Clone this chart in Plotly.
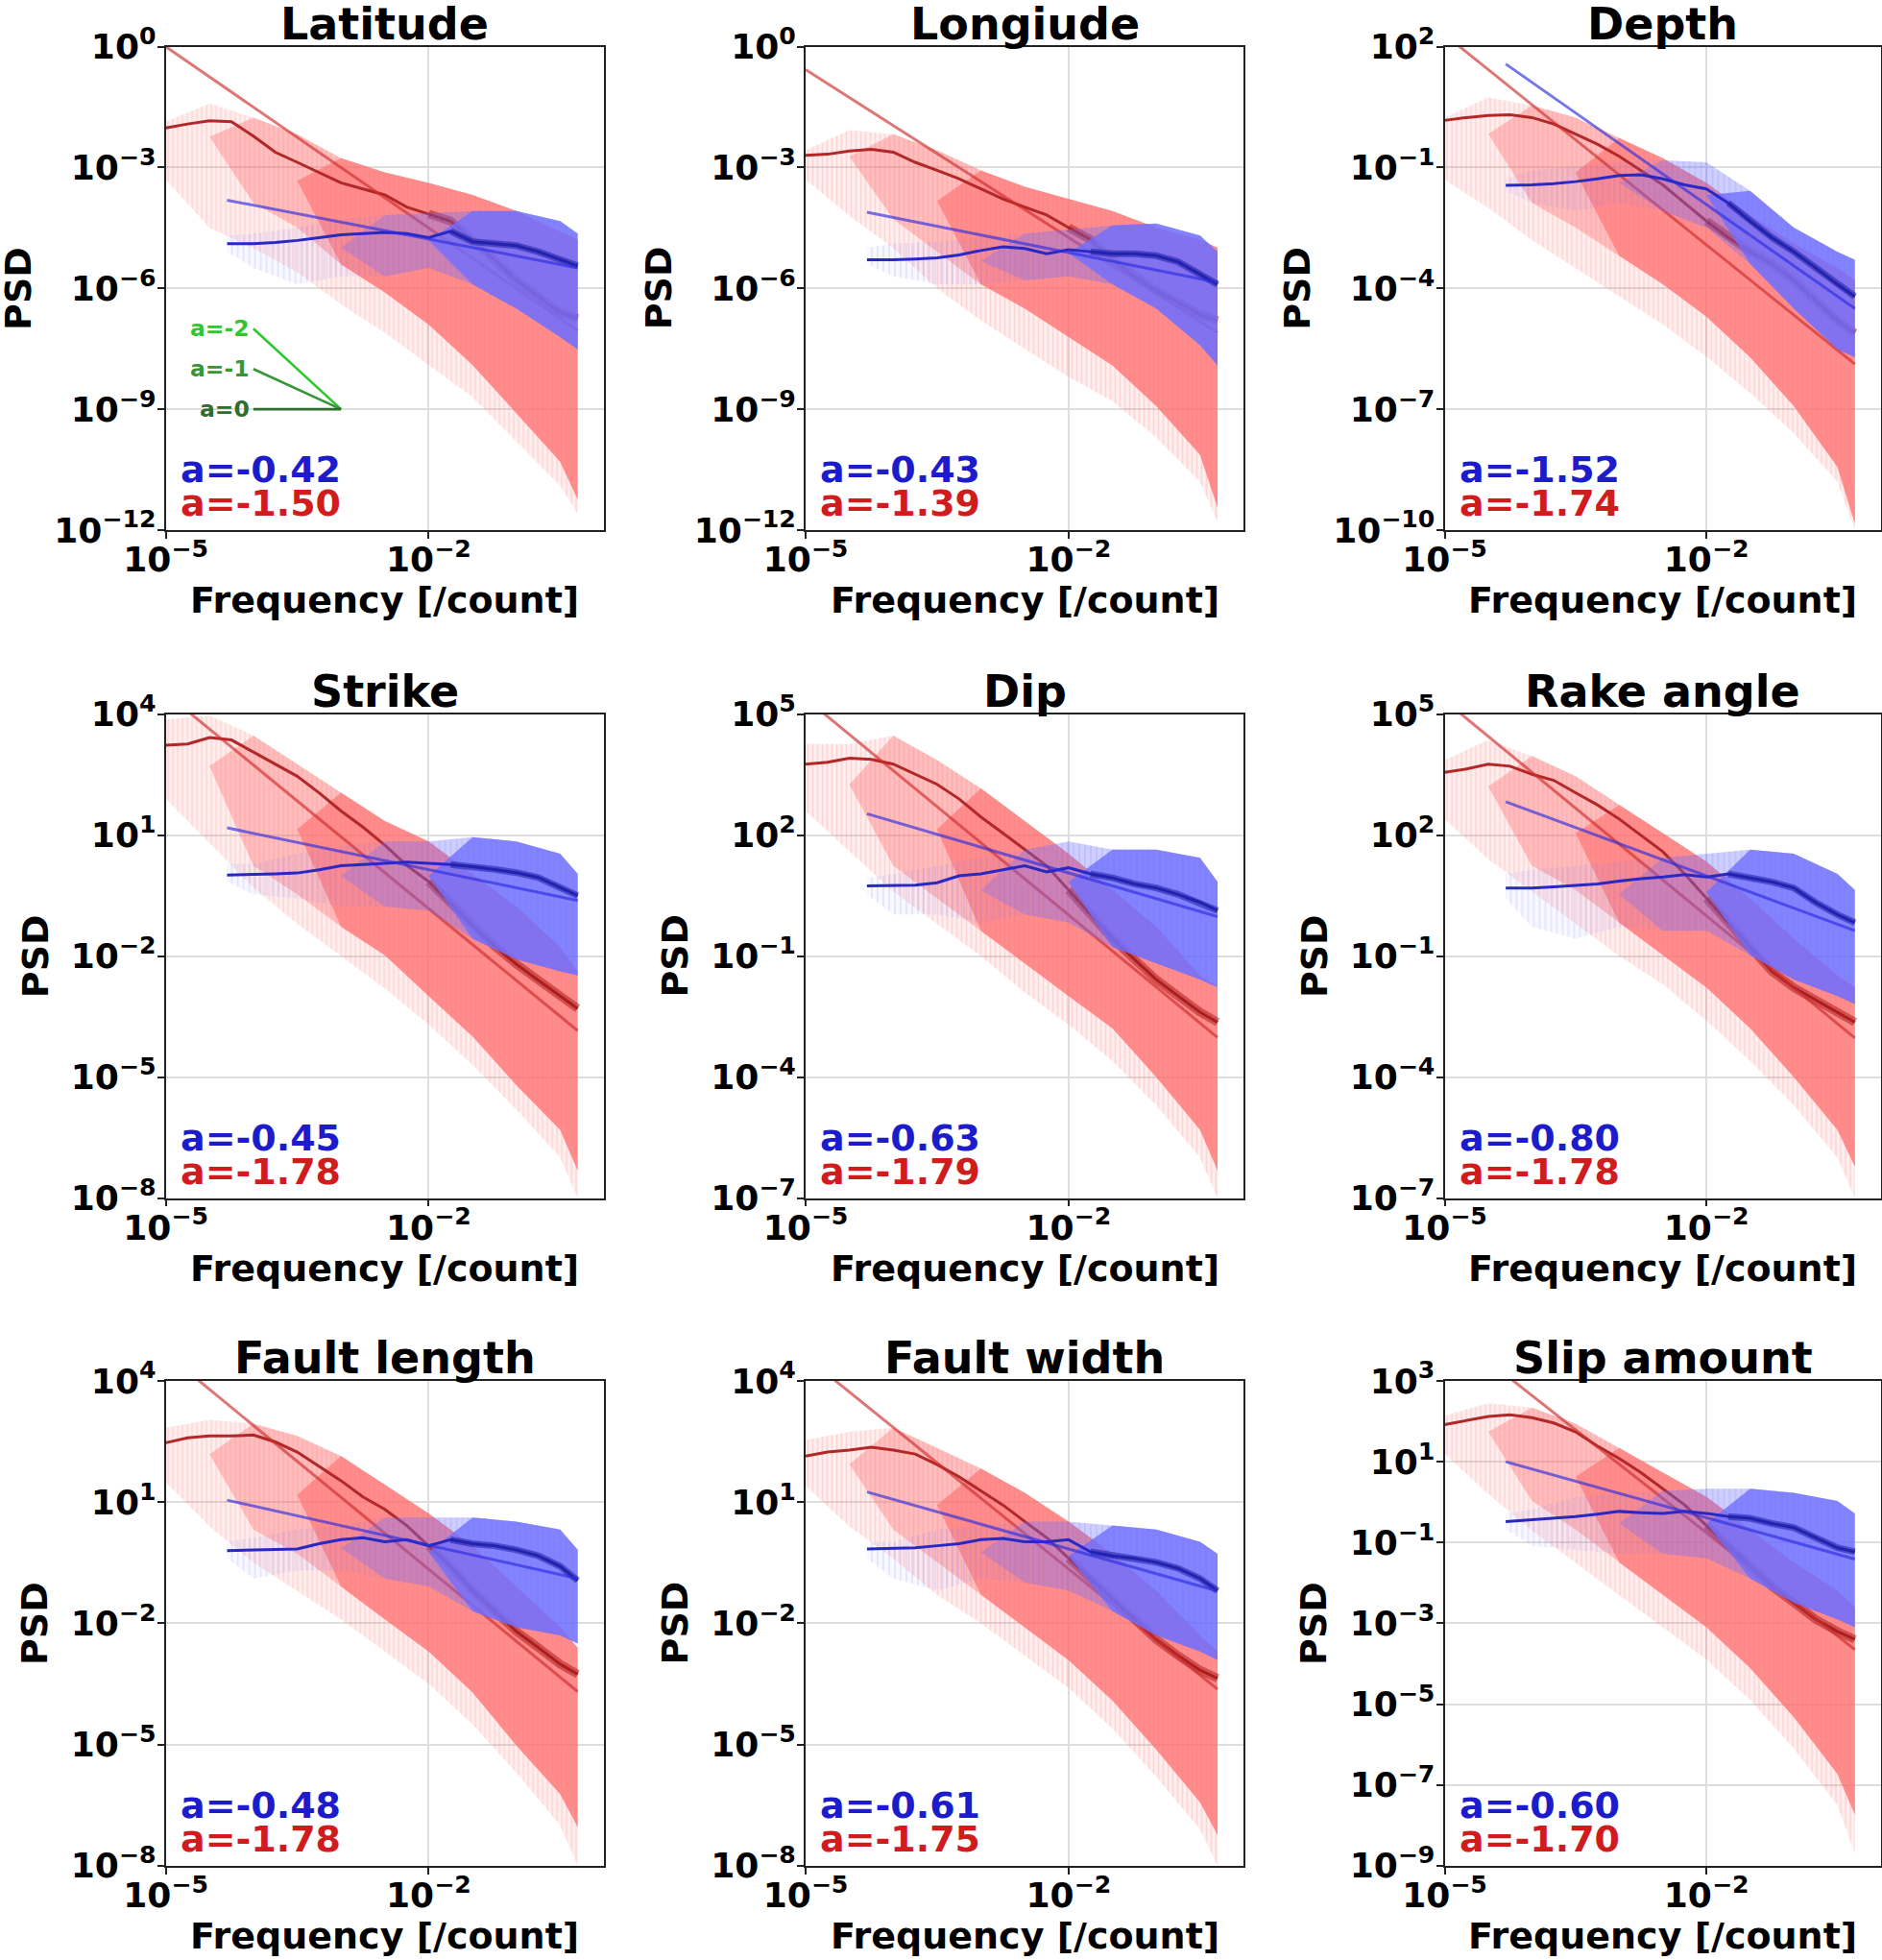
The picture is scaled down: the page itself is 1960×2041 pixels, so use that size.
import numpy as np
import plotly.graph_objects as go

# ---------------- data (log10 units) ----------------
TITLES = ["Latitude", "Longiude", "Depth", "Strike", "Dip", "Rake angle",
          "Fault length", "Fault width", "Slip amount"]
A_BLUE = [-0.42, -0.43, -1.52, -0.45, -0.63, -0.80, -0.48, -0.61, -0.60]
A_RED = [-1.50, -1.39, -1.74, -1.78, -1.79, -1.78, -1.78, -1.75, -1.70]
Y_TICK_EXP = [[0, -3, -6, -9, -12], [0, -3, -6, -9, -12], [2, -1, -4, -7, -10],
              [4, 1, -2, -5, -8], [5, 2, -1, -4, -7], [5, 2, -1, -4, -7],
              [4, 1, -2, -5, -8], [4, 1, -2, -5, -8], [3, 1, -1, -3, -5, -7, -9]]
X_TICK_EXP = [-5, -2]
X_RANGE_EXP = [-5, 0]

# frequency sample points (log10 of frequency)
LOGF_RED_SMOOTH = [-5, -4.75, -4.5, -4.25, -4, -3.75, -3.5, -3.25, -3, -2.75, -2.5,
                   -2.25, -2, -1.75, -1.5, -1.25, -1, -0.75, -0.5, -0.3]
LOGF_BLUE_SMOOTH = [-4.3, -4, -3.75, -3.5, -3.25, -3, -2.75, -2.5, -2.25, -2, -1.75,
                    -1.5, -1.25, -1, -0.75, -0.5, -0.3]
LOGF_RED_BAND = [-5, -4.5, -4, -3.5, -3, -2.5, -2, -1.5, -1, -0.5, -0.3]
LOGF_BLUE_BAND = [-4.3, -4, -3.5, -3, -2.5, -2, -1.5, -1, -0.5, -0.3]

RED_SMOOTH = [
    [-2.02, -1.92, -1.84, -1.86, -2.22, -2.62, -2.87, -3.12, -3.38, -3.53, -3.68, -3.98, -4.15, -4.33, -4.79, -5.29, -5.80, -6.20, -6.60, -6.75],
    [-2.70, -2.67, -2.59, -2.55, -2.62, -2.87, -3.07, -3.28, -3.53, -3.78, -3.98, -4.18, -4.49, -4.79, -5.29, -5.70, -6.05, -6.35, -6.65, -6.80],
    [0.17, 0.24, 0.29, 0.31, 0.24, 0.08, -0.17, -0.42, -0.72, -1.07, -1.43, -1.88, -2.33, -2.74, -3.09, -3.39, -3.80, -4.30, -4.80, -5.11],
    [3.23, 3.26, 3.42, 3.36, 3.06, 2.76, 2.46, 2.05, 1.60, 1.20, 0.75, 0.25, -0.15, -0.70, -1.25, -1.75, -2.20, -2.60, -3.00, -3.30],
    [3.76, 3.81, 3.91, 3.88, 3.76, 3.51, 3.26, 2.90, 2.45, 2.05, 1.64, 1.24, 0.64, 0.03, -0.57, -1.08, -1.58, -1.99, -2.39, -2.64],
    [3.56, 3.64, 3.76, 3.71, 3.51, 3.36, 3.05, 2.75, 2.40, 2.00, 1.59, 1.04, 0.43, -0.17, -0.78, -1.38, -1.78, -2.09, -2.39, -2.64],
    [2.47, 2.59, 2.64, 2.64, 2.66, 2.49, 2.24, 1.88, 1.53, 1.13, 0.82, 0.42, -0.08, -0.59, -1.19, -1.70, -2.20, -2.60, -3.01, -3.26],
    [2.14, 2.24, 2.29, 2.36, 2.29, 2.19, 1.93, 1.63, 1.28, 0.93, 0.52, 0.12, -0.39, -0.89, -1.39, -1.90, -2.40, -2.80, -3.16, -3.36],
    [1.92, 2.02, 2.12, 2.16, 2.09, 1.96, 1.74, 1.39, 1.08, 0.73, 0.33, -0.07, -0.58, -1.08, -1.59, -2.09, -2.49, -2.90, -3.20, -3.40],
]
BLUE_SMOOTH = [
    [-4.89, -4.89, -4.86, -4.81, -4.74, -4.67, -4.64, -4.61, -4.64, -4.74, -4.58, -4.84, -4.89, -4.94, -5.09, -5.29, -5.44],
    [-5.29, -5.29, -5.27, -5.24, -5.17, -5.06, -4.97, -5.01, -5.14, -5.04, -5.09, -5.14, -5.14, -5.19, -5.34, -5.65, -5.90],
    [-1.44, -1.43, -1.40, -1.35, -1.28, -1.20, -1.18, -1.28, -1.43, -1.53, -1.88, -2.33, -2.74, -3.09, -3.49, -3.90, -4.20],
    [0.01, 0.02, 0.04, 0.06, 0.14, 0.24, 0.27, 0.30, 0.33, 0.30, 0.27, 0.22, 0.15, 0.07, -0.05, -0.30, -0.50],
    [0.74, 0.76, 0.76, 0.82, 0.99, 1.04, 1.14, 1.24, 1.09, 1.19, 1.04, 0.94, 0.79, 0.69, 0.53, 0.33, 0.13],
    [0.69, 0.69, 0.72, 0.76, 0.79, 0.86, 0.92, 0.96, 1.02, 0.96, 1.04, 0.94, 0.84, 0.69, 0.33, 0.03, -0.17],
    [-0.20, -0.18, -0.18, -0.16, -0.03, 0.07, 0.12, 0.02, 0.07, -0.08, 0.07, -0.03, -0.08, -0.18, -0.33, -0.59, -0.94],
    [-0.16, -0.14, -0.13, -0.08, -0.03, 0.07, 0.10, 0.02, 0.02, 0.07, -0.23, -0.33, -0.39, -0.49, -0.64, -0.89, -1.19],
    [-0.48, -0.43, -0.40, -0.36, -0.30, -0.23, -0.26, -0.28, -0.23, -0.28, -0.36, -0.40, -0.53, -0.63, -0.88, -1.13, -1.23],
]
RED_HI = [
    [-1.86, -1.41, -1.76, -2.17, -2.77, -3.12, -3.38, -3.68, -4.08, -4.59, -4.79],
    [-2.57, -2.07, -2.17, -2.57, -3.07, -3.48, -3.78, -4.08, -4.49, -4.79, -4.99],
    [0.24, 0.74, 0.54, 0.24, -0.27, -0.77, -1.38, -2.18, -2.89, -3.49, -3.80],
    [3.87, 3.97, 3.47, 2.76, 2.05, 1.35, 0.84, 0.04, -0.77, -1.78, -2.38],
    [4.26, 4.26, 4.47, 3.86, 3.16, 2.35, 1.54, 0.64, -0.27, -1.48, -1.78],
    [3.86, 4.36, 3.96, 3.46, 2.75, 2.05, 1.34, 0.43, -0.57, -1.48, -1.78],
    [2.84, 3.04, 2.94, 2.64, 2.14, 1.43, 0.72, -0.08, -1.09, -2.10, -2.60],
    [2.54, 2.74, 2.84, 2.34, 1.83, 1.23, 0.52, -0.28, -1.19, -2.30, -2.70],
    [2.14, 2.45, 2.34, 1.94, 1.34, 0.73, 0.13, -0.68, -1.49, -2.19, -2.60],
]
RED_LO = [
    [-3.07, -3.07, -3.88, -4.49, -5.40, -6.10, -6.90, -7.90, -9.10, -10.30, -11.24],
    [-3.07, -3.38, -4.28, -5.09, -5.90, -6.50, -7.21, -7.91, -8.92, -10.13, -11.44],
    [-1.07, -1.07, -1.88, -2.49, -3.19, -3.90, -4.70, -5.71, -6.92, -8.43, -9.84],
    [2.26, 1.45, 0.24, -0.47, -1.27, -1.98, -2.99, -3.99, -5.20, -6.31, -7.32],
    [2.95, 2.25, 1.24, 0.43, -0.37, -1.18, -1.99, -2.79, -4.00, -5.31, -6.32],
    [2.75, 2.05, 1.24, 0.64, -0.17, -0.98, -1.78, -2.79, -4.00, -5.31, -6.22],
    [1.83, 1.33, 0.32, -0.28, -1.09, -1.90, -2.70, -3.71, -5.02, -6.23, -7.04],
    [1.73, 1.13, 0.32, -0.49, -1.29, -2.10, -2.91, -3.91, -5.12, -6.43, -7.24],
    [1.54, 1.03, 0.03, -0.68, -1.49, -2.29, -3.10, -4.11, -5.32, -6.73, -7.74],
]
# deepest downward spikes of the raw red spectrum
RED_MIN = [
    [-3.3, -4.5, -5.0, -5.6, -6.4, -7.1, -7.9, -8.7, -9.8, -10.9, -11.6],
    [-3.3, -4.2, -5.0, -6.0, -6.8, -7.5, -8.2, -8.8, -9.7, -10.8, -11.8],
    [-1.3, -2.0, -2.8, -3.5, -4.2, -4.9, -5.7, -6.6, -7.6, -8.8, -10.0],
    [1.9, 0.8, -0.3, -1.2, -2.0, -2.8, -3.7, -4.7, -5.8, -7.0, -8.0],
    [2.6, 1.6, 0.6, -0.2, -1.0, -1.9, -2.7, -3.6, -4.7, -6.0, -7.0],
    [2.4, 1.4, 0.6, -0.2, -1.0, -1.7, -2.6, -3.6, -4.7, -6.0, -7.0],
    [1.5, 0.4, -0.5, -1.2, -1.9, -2.7, -3.5, -4.5, -5.7, -7.0, -8.0],
    [1.4, 0.4, -0.4, -1.3, -2.0, -2.8, -3.6, -4.6, -5.8, -7.1, -8.0],
    [1.2, 0.2, -0.7, -1.5, -2.3, -3.1, -3.9, -4.9, -6.1, -7.5, -8.7],
]
BLUE_HI = [
    [-4.69, -4.64, -4.49, -4.28, -4.18, -4.13, -4.08, -4.08, -4.33, -4.64],
    [-4.99, -4.89, -4.84, -4.74, -4.64, -4.54, -4.44, -4.39, -4.69, -5.09],
    [-1.28, -1.07, -0.97, -0.87, -0.82, -0.87, -1.58, -2.49, -3.09, -3.29],
    [0.29, 0.29, 0.54, 0.74, 0.84, 0.84, 0.95, 0.84, 0.54, 0.04],
    [0.94, 1.04, 1.24, 1.44, 1.64, 1.84, 1.64, 1.64, 1.44, 0.84],
    [1.04, 1.14, 1.24, 1.34, 1.44, 1.54, 1.64, 1.54, 1.04, 0.64],
    [0.02, 0.12, 0.32, 0.42, 0.62, 0.62, 0.62, 0.52, 0.32, -0.18],
    [0.02, 0.02, 0.32, 0.42, 0.52, 0.52, 0.42, 0.32, 0.02, -0.28],
    [-0.28, -0.18, 0.13, 0.23, 0.28, 0.33, 0.33, 0.23, 0.03, -0.28],
]
BLUE_LO = [
    [-5.09, -5.49, -5.90, -5.70, -5.70, -5.49, -5.90, -6.50, -7.21, -7.51],
    [-5.39, -5.70, -5.90, -5.90, -5.80, -5.70, -5.90, -6.50, -7.41, -7.91],
    [-1.58, -1.88, -2.08, -1.88, -2.08, -2.49, -3.39, -4.50, -5.51, -5.71],
    [-0.16, -0.47, -0.57, -0.77, -0.77, -0.87, -1.57, -2.08, -2.38, -2.48],
    [0.53, 0.03, 0.03, -0.17, 0.03, -0.17, -0.78, -1.18, -1.58, -1.78],
    [0.43, -0.27, -0.57, -0.27, -0.37, -0.37, -0.98, -1.58, -1.99, -2.19],
    [-0.39, -0.89, -0.69, -0.69, -0.89, -1.09, -1.70, -2.10, -2.30, -2.50],
    [-0.39, -0.89, -1.19, -0.89, -0.99, -1.19, -1.70, -2.30, -2.70, -2.91],
    [-0.68, -1.08, -1.18, -1.28, -1.28, -1.39, -1.89, -2.49, -2.90, -3.10],
]
# power-law fit lines: log10 PSD at the first and last fitted frequency
RED_FIT_LOGF = [-5.0, -0.3]
BLUE_FIT_LOGF = [-4.3, -0.3]
RED_FIT_START = [0.00, -0.57, 2.30, 4.52, 5.39, 5.34, 4.68, 4.60, 4.34]
RED_FIT_END = [-7.05, -7.10, -5.88, -3.85, -3.02, -3.03, -3.69, -3.63, -3.65]
BLUE_FIT_START = [-3.81, -4.11, 1.57, 1.18, 2.53, 2.83, 1.05, 1.25, 1.00]
BLUE_FIT_END = [-5.49, -5.85, -4.50, -0.62, -0.02, -0.37, -0.89, -1.20, -1.41]
# slope guide (first panel only)
GUIDE_LABELS = ["a=-2", "a=-1", "a=0"]
GUIDE_LOGF = [-4.0, -3.0]
GUIDE_START = [-7.0, -8.0, -9.0]
GUIDE_END = [-9.0, -9.0, -9.0]

# ---------------- style / layout ----------------
W, H = 1960, 2041
COL_PX = [(172.6, 629.0), (839.0, 1295.4), (1504.5, 1959.0)]
ROW_PX = [(48.6, 552.0), (743.7, 1247.5), (1438.0, 1942.8)]
FONT = "DejaVu Sans"
RED_SPIKES = dict(fillcolor="rgba(255,110,110,0.10)",
                  fillpattern=dict(shape="|", size=5, solidity=0.35,
                                   fgcolor="rgba(255,110,110,0.45)", bgcolor="rgba(255,110,110,0.10)"))
# (first index of the layer in the band grid, colour); layers start as a wedge
RED_LAYERS = [(1, "rgba(255,110,110,0.38)"), (3, "rgba(255,110,110,0.62)")]
BLUE_SPIKES = dict(fillcolor="rgba(110,110,255,0.06)",
                   fillpattern=dict(shape="|", size=6, solidity=0.3,
                                    fgcolor="rgba(110,110,255,0.30)", bgcolor="rgba(110,110,255,0.05)"))
BLUE_LAYERS = [(3, "rgba(110,110,255,0.30)"), (5, "rgba(110,110,255,0.78)")]
RED_SMOOTH_C = "rgb(178,40,40)"
RED_SMOOTH_THICK = "rgba(165,20,20,0.5)"
BLUE_SMOOTH_C = "rgb(40,40,195)"
BLUE_SMOOTH_THICK = "rgba(30,30,160,0.55)"
RED_FIT_C = "rgba(205,45,45,0.65)"
BLUE_FIT_C = "rgba(45,45,225,0.65)"
TXT_BLUE = "rgb(28,28,205)"
TXT_RED = "rgb(208,28,28)"
GUIDE_COLORS = ["rgb(45,200,45)", "rgb(55,150,55)", "rgb(45,110,45)"]


def sup(e):
    s = str(e).replace("-", "\u2212")
    return f"10<sup>{s}</sup>"


def px_x(x):
    return x / W


def px_y(y):
    return 1 - y / H


fig = go.Figure()
annotations = []
layout = {}


def add(tr, xa, ya):
    tr.update(xaxis=xa, yaxis=ya, showlegend=False, hoverinfo="skip")
    fig.add_trace(tr)


def polygon(lf, top, bottom, xa, ya, **style):
    xs = np.concatenate([lf, lf[::-1]])
    ys = np.concatenate([top, bottom[::-1]])
    add(go.Scatter(x=10 ** xs, y=10 ** ys, mode="lines", fill="toself",
                   line=dict(width=0), **style), xa, ya)


def band(logf, hi, lo, lowest, spikes, layers, xa, ya):
    lf = np.array(logf, dtype=float)
    h = np.array(hi, dtype=float)
    l = np.array(lo, dtype=float)
    m = np.array(lowest if lowest is not None else lo, dtype=float)
    polygon(lf, h, m, xa, ya, **spikes)
    for k, color in layers:
        h2 = h[k:].copy()
        l2 = l[k:].copy()
        mid = 0.5 * (h2[0] + l2[0])
        h2[0] = mid
        l2[0] = mid
        polygon(lf[k:], h2, l2, xa, ya, fillcolor=color)


for i in range(9):
    r, c = divmod(i, 3)
    n = i + 1
    xa = "x" if n == 1 else f"x{n}"
    ya = "y" if n == 1 else f"y{n}"
    xl, xr = COL_PX[c]
    yt, yb = ROW_PX[r]
    yt_exp = Y_TICK_EXP[i]

    axis_common = dict(
        type="log", showline=True, linecolor="#222", linewidth=1.8, mirror=True,
        ticks="outside", ticklen=7, tickwidth=1.6, tickcolor="#222",
        showgrid=True, gridcolor="rgb(222,222,222)", gridwidth=1.5,
        zeroline=False, automargin=False,
        tickfont=dict(family=FONT, size=36, color="black", weight="bold"),
    )
    layout["xaxis" if n == 1 else f"xaxis{n}"] = dict(
        axis_common, domain=[px_x(xl), px_x(xr)], anchor=ya, ticklabelstandoff=-9,
        range=X_RANGE_EXP, tickvals=[10.0 ** e for e in X_TICK_EXP],
        ticktext=[sup(e) for e in X_TICK_EXP])
    layout["yaxis" if n == 1 else f"yaxis{n}"] = dict(
        axis_common, domain=[px_y(yb), px_y(yt)], anchor=xa, ticklabelstandoff=-6,
        range=[min(yt_exp), max(yt_exp)], tickvals=[10.0 ** e for e in yt_exp],
        ticktext=[sup(e) for e in yt_exp])

    # red raw spectrum, smooth, fit
    band(LOGF_RED_BAND, RED_HI[i], RED_LO[i], RED_MIN[i], RED_SPIKES, RED_LAYERS, xa, ya)
    f_rs = 10 ** np.array(LOGF_RED_SMOOTH)
    p_rs = 10 ** np.array(RED_SMOOTH[i])
    add(go.Scatter(x=f_rs, y=p_rs, mode="lines", line=dict(color=RED_SMOOTH_C, width=3)), xa, ya)
    add(go.Scatter(x=f_rs[12:], y=p_rs[12:], mode="lines",
                   line=dict(color=RED_SMOOTH_THICK, width=9)), xa, ya)
    add(go.Scatter(x=10 ** np.array(RED_FIT_LOGF), y=10 ** np.array([RED_FIT_START[i], RED_FIT_END[i]]),
                   mode="lines", line=dict(color=RED_FIT_C, width=3)), xa, ya)

    # blue raw spectrum, smooth, fit
    band(LOGF_BLUE_BAND, BLUE_HI[i], BLUE_LO[i], None, BLUE_SPIKES, BLUE_LAYERS, xa, ya)
    f_bs = 10 ** np.array(LOGF_BLUE_SMOOTH)
    p_bs = 10 ** np.array(BLUE_SMOOTH[i])
    add(go.Scatter(x=f_bs, y=p_bs, mode="lines", line=dict(color=BLUE_SMOOTH_C, width=3)), xa, ya)
    add(go.Scatter(x=f_bs[10:], y=p_bs[10:], mode="lines",
                   line=dict(color=BLUE_SMOOTH_THICK, width=7)), xa, ya)
    add(go.Scatter(x=10 ** np.array(BLUE_FIT_LOGF), y=10 ** np.array([BLUE_FIT_START[i], BLUE_FIT_END[i]]),
                   mode="lines", line=dict(color=BLUE_FIT_C, width=3)), xa, ya)

    # texts
    cx = 0.5 * (xl + xr)
    cy = 0.5 * (yt + yb)
    annotations.append(dict(text=TITLES[i], x=px_x(cx), y=px_y(yt - 24), xref="paper", yref="paper",
                            xanchor="center", yanchor="middle", showarrow=False,
                            font=dict(family=FONT, size=46, color="black", weight="bold")))
    annotations.append(dict(text="Frequency [/count]", x=px_x(cx), y=px_y(yb + 73), xref="paper", yref="paper",
                            xanchor="center", yanchor="middle", showarrow=False,
                            font=dict(family=FONT, size=38, color="black", weight="bold")))
    wide = any(abs(e) >= 10 for e in yt_exp)
    off = 153 if wide else 136
    annotations.append(dict(text="PSD", x=px_x(xl - off), y=px_y(cy), xref="paper", yref="paper",
                            xanchor="center", yanchor="middle", textangle=-90, showarrow=False,
                            font=dict(family=FONT, size=38, color="black", weight="bold")))
    annotations.append(dict(text=f"a={A_BLUE[i]:.2f}", x=px_x(xl + 13), y=px_y(yb - 63), xref="paper", yref="paper",
                            xanchor="left", yanchor="middle", showarrow=False,
                            font=dict(family=FONT, size=38, color=TXT_BLUE, weight="bold")))
    annotations.append(dict(text=f"a={A_RED[i]:.2f}", x=px_x(xl + 13), y=px_y(yb - 28), xref="paper", yref="paper",
                            xanchor="left", yanchor="middle", showarrow=False,
                            font=dict(family=FONT, size=38, color=TXT_RED, weight="bold")))

# slope guide in first panel
for k in range(3):
    add(go.Scatter(x=10 ** np.array(GUIDE_LOGF), y=10 ** np.array([GUIDE_START[k], GUIDE_END[k]]),
                   mode="lines", line=dict(color=GUIDE_COLORS[k], width=2.6)), "x", "y")
    annotations.append(dict(text=GUIDE_LABELS[k], x=GUIDE_LOGF[0], y=GUIDE_START[k], xref="x", yref="y",
                            xanchor="right", yanchor="middle", xshift=-2, showarrow=False,
                            font=dict(family=FONT, size=23.5, color=GUIDE_COLORS[k], weight="bold")))

fig.update_layout(**layout)
fig.update_layout(width=W, height=H, margin=dict(l=0, r=0, t=0, b=0, autoexpand=False),
                  paper_bgcolor="white", plot_bgcolor="white",
                  annotations=annotations, showlegend=False)

fig.write_html("out.html", config={"displayModeBar": False},
               post_script="document.body.style.margin='0';document.body.style.overflow='hidden';")
